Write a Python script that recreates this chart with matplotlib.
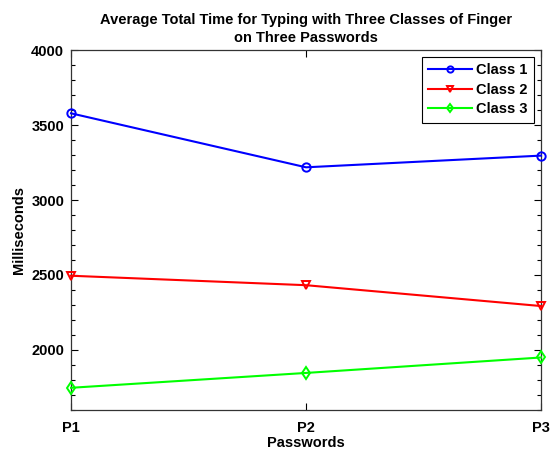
import matplotlib
matplotlib.use("Agg")
import matplotlib.pyplot as plt
from matplotlib.ticker import MultipleLocator

passwords = ["P1", "P2", "P3"]
class1 = [3578, 3218, 3296]
class2 = [2495, 2432, 2293]
class3 = [1748, 1847, 1950]
series = [("Class 1", class1, "#0000ff", "o"),
          ("Class 2", class2, "#ff0000", "v"),
          ("Class 3", class3, "#00ff00", "d")]

plt.rcParams["font.family"] = ["Liberation Sans", "DejaVu Sans"]
plt.rcParams["font.weight"] = "bold"

fig = plt.figure(figsize=(5.54, 4.49), dpi=100)
ax = fig.add_axes([0.1282, 0.0869, 0.8484, 0.8017])

x = range(len(passwords))
for name, vals, col, mk in series:
    ax.plot(x, vals, color=col, marker=mk, markerfacecolor="none",
            markeredgecolor=col, markeredgewidth=1.4, markersize=6,
            linewidth=1.5, label=name, clip_on=False, zorder=3)

ax.set_xlim(0, 2)
ax.set_ylim(1600, 4000)
ax.set_xticks(list(x))
ax.set_xticklabels(passwords)
ax.yaxis.set_major_locator(MultipleLocator(500))
ax.yaxis.set_minor_locator(MultipleLocator(100))
ax.tick_params(direction="in", top=True, right=True, labelsize=10.5,
               length=5, width=0.8)
ax.tick_params(axis="x", pad=8)
ax.tick_params(axis="y", pad=5)
ax.tick_params(which="minor", direction="in", right=True, left=True,
               length=3, width=0.8)
ax.yaxis.set_ticks_position("both")
for sp in ax.spines.values():
    sp.set_linewidth(0.9)
    sp.set_color("#333333")

ax.set_xlabel("Passwords", fontsize=10.5, fontweight="bold", labelpad=1)
ax.set_ylabel("Milliseconds", fontsize=10.5, fontweight="bold", labelpad=4)
ax.set_title("Average Total Time for Typing with Three Classes of Finger\n"
             "on Three Passwords", fontsize=10.5, fontweight="bold",
             linespacing=1.3, pad=6)

leg = ax.legend(loc="upper right", fontsize=10.5, fancybox=False,
                edgecolor="black", framealpha=1, handlelength=3.0,
                borderaxespad=0.45, handletextpad=0.3, labelspacing=0.38,
                borderpad=0.45, markerscale=0.75)
leg.get_frame().set_linewidth(0.8)

fig.savefig("out.png", dpi=100)
